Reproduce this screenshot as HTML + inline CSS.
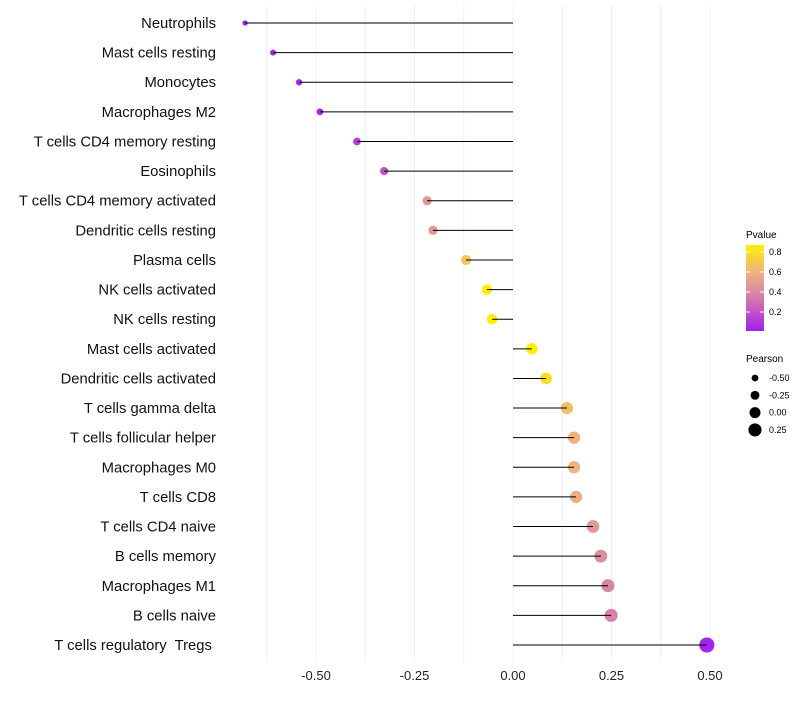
<!DOCTYPE html>
<html><head><meta charset="utf-8"><style>
body{margin:0;background:#fff;font-family:"Liberation Sans",sans-serif;}
text{white-space:pre;}
</style></head><body>
<svg id="chart" width="800" height="700" xmlns="http://www.w3.org/2000/svg" font-family="Liberation Sans, sans-serif">
<defs><linearGradient id="pg" x1="0" y1="1" x2="0" y2="0">
<stop offset="0" stop-color="#A020F0"/><stop offset="0.25" stop-color="#C65ABF"/><stop offset="0.45" stop-color="#D98AA2"/><stop offset="0.7" stop-color="#F0B57A"/><stop offset="1" stop-color="#FFF000"/></linearGradient></defs>
<g id="grid"></g>
<g id="dots"></g>
<g id="marks"></g>
<g id="ylabels"></g>
<g id="xlabels"></g>
<g>
<text x="746" y="238" font-size="10">Pvalue</text>
<rect x="746" y="245" width="18" height="86" fill="url(#pg)"/>
<g id="cbticks"></g>
</g>
<g id="sizelegend">
<text x="746" y="362" font-size="10">Pearson</text>
</g>
</svg>
<script>
const categories=["Neutrophils","Mast cells resting","Monocytes","Macrophages M2","T cells CD4 memory resting","Eosinophils","T cells CD4 memory activated","Dendritic cells resting","Plasma cells","NK cells activated","NK cells resting","Mast cells activated","Dendritic cells activated","T cells gamma delta","T cells follicular helper","Macrophages M0","T cells CD8","T cells CD4 naive","B cells memory","Macrophages M1","B cells naive","T cells regulatory  Tregs "];
const pearson=[-0.680,-0.609,-0.543,-0.490,-0.396,-0.327,-0.218,-0.203,-0.119,-0.066,-0.053,0.048,0.084,0.137,0.155,0.155,0.160,0.203,0.223,0.241,0.249,0.492];
const pvalue=[0.01,0.02,0.05,0.07,0.13,0.2,0.47,0.48,0.68,0.87,0.87,0.87,0.79,0.65,0.6,0.6,0.58,0.46,0.42,0.38,0.37,0.03];
const xTicks=[-0.5,-0.25,0,0.25,0.5];
const xTickLabels=["-0.50","-0.25","0.00","0.25","0.50"];
const cbTicks=[0.2,0.4,0.6,0.8];
const sizeBreaks=[-0.5,-0.25,0,0.25];
const NS="http://www.w3.org/2000/svg";
const X=v=>513+v*394;
const Y=i=>23+i*29.62;
const R=p=>Math.max(1.5,5.5+4.2*p);
const stops=[[0,[160,32,240]],[0.25,[198,90,191]],[0.45,[217,138,162]],[0.7,[240,181,122]],[1,[255,240,0]]];
function col(p){let t=(p-0.01)/0.86;t=Math.max(0,Math.min(1,t));
for(let k=1;k<stops.length;k++){if(t<=stops[k][0]){const a=stops[k-1],b=stops[k];const f=(t-a[0])/(b[0]-a[0]);
return "rgb("+a[1].map((c,j)=>Math.round(c+(b[1][j]-c)*f)).join(",")+")";}}return "rgb(255,240,0)";}
function mk(tag,attrs,parent,text){const e=document.createElementNS(NS,tag);for(const k in attrs)e.setAttribute(k,attrs[k]);if(text!==undefined)e.textContent=text;document.getElementById(parent).appendChild(e);return e;}
for(let v=-0.625;v<=0.5001;v+=0.125){const l=mk("line",{x1:X(v),x2:X(v),y1:5,y2:662,stroke:"#f0f0f0","stroke-width":1},"grid");

}
categories.forEach((c,i)=>{
const y=Y(i);
const d=mk("circle",{cx:X(pearson[i]),cy:y,r:R(pearson[i]),fill:col(pvalue[i])},"dots");


const l=mk("line",{x1:X(0),x2:X(pearson[i]),y1:y,y2:y,stroke:"#000","stroke-width":1},"marks");


const t=mk("text",{x:216,y:y+5,"text-anchor":"end","font-size":14.8,fill:"#111"},"ylabels",c);


});
xTicks.forEach((v,i)=>{const t=mk("text",{x:X(v),y:680,"text-anchor":"middle","font-size":13,fill:"#222"},"xlabels",xTickLabels[i]);

});
cbTicks.forEach(v=>{const y=331-(v-0.01)*100;
const l=mk("line",{x1:746,x2:750,y1:y,y2:y,stroke:"#fff"},"cbticks");


const l2=mk("line",{x1:760,x2:764,y1:y,y2:y,stroke:"#fff"},"cbticks");


const t=mk("text",{x:769,y:y+3,"font-size":9},"cbticks",v.toFixed(1));

});
sizeBreaks.forEach((v,i)=>{const y=378+i*17.3;
const c=mk("circle",{cx:755,cy:y,r:R(v),fill:"#000"},"sizelegend");


const t=mk("text",{x:769,y:y+3,"font-size":9},"sizelegend",v.toFixed(2));

});
</script>
</body></html>
